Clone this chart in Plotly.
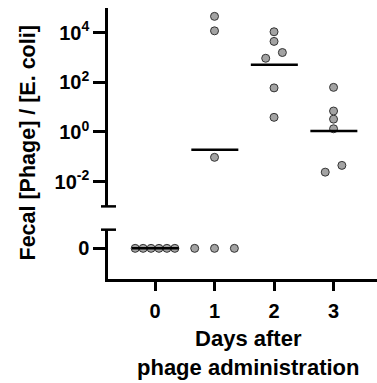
import numpy as np
import plotly.graph_objects as go

# Fecal phage-to-E. coli ratio per mouse, by day after phage administration
days = [0, 1, 2, 3]
ratio_day0 = [0, 0, 0, 0, 0, 0]
ratio_day1 = [46000, 12000, 0.095, 0, 0, 0]
ratio_day2 = [11000, 4500, 1600, 940, 60, 3.9]
ratio_day3 = [63, 7.0, 3.3, 1.35, 0.045, 0.024]
medians = [0, 0.19, 510, 1.1]

tick_vals_log = [1e-2, 1, 1e2, 1e4]
tick_text_log = ["<b>10<sup>-2</sup></b>", "<b>10<sup>0</sup></b>",
                 "<b>10<sup>2</sup></b>", "<b>10<sup>4</sup></b>"]
day_labels = ["<b>0</b>", "<b>1</b>", "<b>2</b>", "<b>3</b>"]

groups = [ratio_day0, ratio_day1, ratio_day2, ratio_day3]

FONT = "Liberation Sans, Arial, sans-serif"
FILL = "#a3a3a3"
EDGE = "#333333"


def swarm(day, values):
    """Spread points that would overlap horizontally around the day."""
    xs, ys = [], []
    zeros = [v for v in values if v == 0]
    pos = sorted(v for v in values if v > 0)
    # values below detection spread across the whole column
    n = len(zeros)
    if n:
        offs = [0.0] if n == 1 else np.linspace(-1 / 3, 1 / 3, n)
        xs_z = [day + o for o in offs]
    else:
        xs_z = []
    # cluster nearby positive values (within ~one marker height)
    clusters = []
    for v in pos:
        if clusters and np.log10(v) - np.log10(clusters[-1][-1]) < 0.3:
            clusters[-1].append(v)
        else:
            clusters.append([v])
    for c in clusters:
        k = len(c)
        offs = (np.arange(k) - (k - 1) / 2) * 0.28
        for v, o in zip(c, offs):
            xs.append(day + o)
            ys.append(v)
    return xs_z, zeros, xs, ys


fig = go.Figure()

marker = dict(size=8, color=FILL, line=dict(color=EDGE, width=1))

for d, vals in zip(days, groups):
    xz, yz, xp, yp = swarm(d, vals)
    if xz:
        fig.add_trace(go.Scatter(x=xz, y=yz, mode="markers", marker=marker,
                                 yaxis="y", showlegend=False, cliponaxis=False))
    if xp:
        fig.add_trace(go.Scatter(x=xp, y=yp, mode="markers", marker=marker,
                                 yaxis="y2", showlegend=False, cliponaxis=False))

# median bars
for d, m in zip(days, medians):
    fig.add_trace(go.Scatter(x=[d - 0.39, d + 0.4], y=[m, m], mode="lines",
                             line=dict(color="black", width=2.5),
                             yaxis="y" if m == 0 else "y2", showlegend=False))

axis_common = dict(showline=True, linecolor="black", linewidth=2.5,
                   ticks="outside", tickcolor="black", tickwidth=2.5,
                   showgrid=False, zeroline=False,
                   tickfont=dict(family=FONT, size=20, color="black"))

fig.update_layout(
    width=377, height=383,
    margin=dict(l=108, r=0, t=8, b=104),
    plot_bgcolor="white", paper_bgcolor="white",
    xaxis=dict(range=[-0.79, 3.73], tickvals=days, ticktext=day_labels,
               ticklen=9, ticklabelstandoff=3, **axis_common),
    yaxis=dict(domain=[0, 0.182], range=[-1.64, 1], tickvals=[0],
               ticktext=["<b>0</b>"], ticklen=12, anchor="x", **axis_common),
    yaxis2=dict(domain=[0.268, 1], type="log", range=[-3, 5],
                tickvals=tick_vals_log, ticktext=tick_text_log,
                ticklen=12, anchor="x", **axis_common),
    showlegend=False,
)

# caps marking the axis break
for yref in ["y2 domain", "y domain"]:
    yv = 0 if yref == "y2 domain" else 1
    fig.add_shape(type="line", xref="paper", xsizemode="pixel", xanchor=0,
                  x0=-7, x1=8, yref=yref, y0=yv, y1=yv,
                  line=dict(color="black", width=2.5))

fig.add_annotation(text="<b>Fecal [Phage] / [E. coli]</b>", textangle=-90,
                   xref="paper", yref="paper", x=0, y=0.5, xshift=-81,
                   xanchor="center", yanchor="middle", showarrow=False,
                   font=dict(family=FONT, size=21.5, color="black"))

fig.add_annotation(text="<b>Days after<br>phage administration</b>",
                   xref="paper", yref="paper", x=0.52, y=0, yshift=-74,
                   xanchor="center", yanchor="middle", showarrow=False,
                   font=dict(family=FONT, size=22, color="black"))

fig.write_html("out.html")
